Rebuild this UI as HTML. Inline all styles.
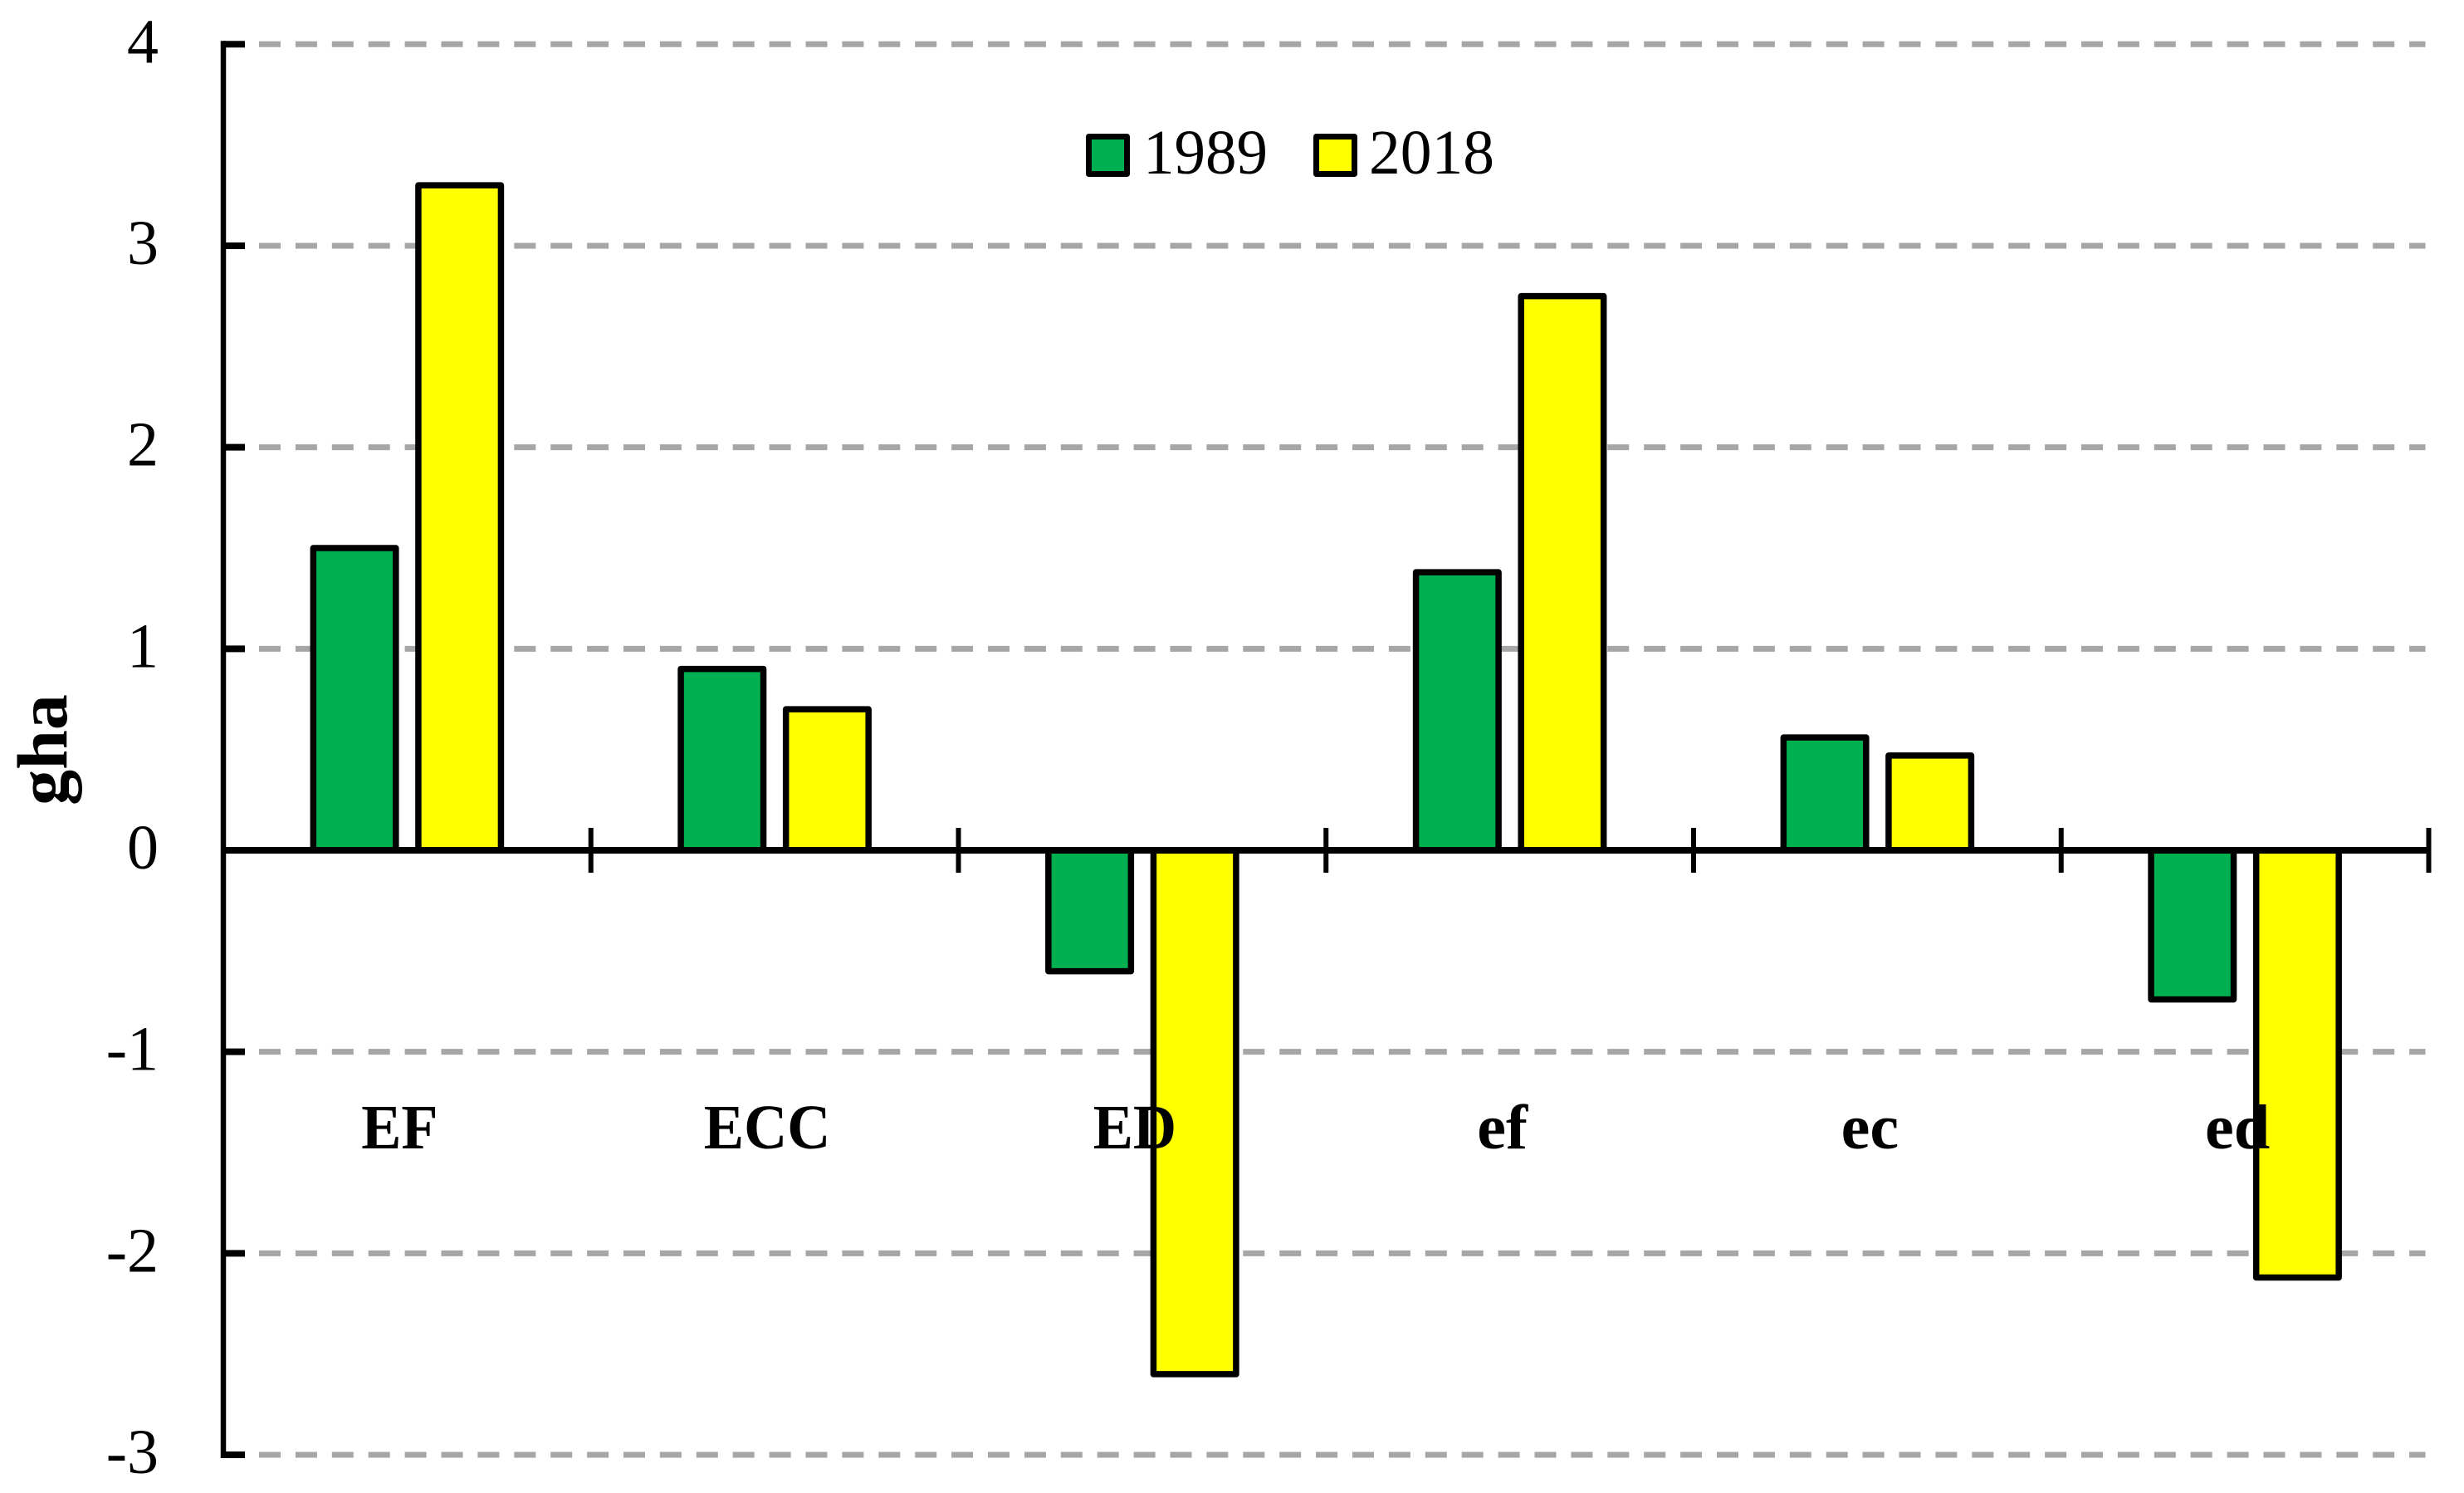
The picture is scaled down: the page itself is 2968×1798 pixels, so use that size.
<!DOCTYPE html>
<html lang="en">
<head>
<meta charset="utf-8">
<title>gha by indicator, 1989 and 2018</title>
<style>
html,body{margin:0;padding:0;background:#fff;}
svg{display:block;}
text{font-family:"Liberation Serif",serif;fill:#000;}
</style>
</head>
<body>
<svg id="chart" xmlns="http://www.w3.org/2000/svg" width="2968" height="1798" viewBox="0 0 2968 1798">
  <rect x="0" y="0" width="2968" height="1798" fill="#fff"/>
  <g id="grid"></g>
  <g id="bars"></g>
  <g id="axes"></g>
  <g id="labels"></g>
  <text transform="translate(80,903) rotate(-90)" text-anchor="middle" font-size="86" font-weight="bold">gha</text>
  <g>
    <rect x="1311.5" y="164.5" width="46" height="45" fill="#00B050" stroke="#000" stroke-width="7" stroke-linejoin="round"/>
    <text x="1377" y="209" font-size="76" textLength="150" lengthAdjust="spacingAndGlyphs">1989</text>
    <rect x="1585.5" y="164.5" width="46" height="45" fill="#FFFF00" stroke="#000" stroke-width="7" stroke-linejoin="round"/>
    <text x="1649" y="209" font-size="76" textLength="151" lengthAdjust="spacingAndGlyphs">2018</text>
  </g>
</svg>
<script>
const categories = ["EF", "ECC", "ED", "ef", "ec", "ed"];
const series1989 = [1.5, 0.9, -0.6, 1.38, 0.56, -0.74];
const series2018 = [3.3, 0.7, -2.6, 2.75, 0.47, -2.12];
const yTickLabels = [4, 3, 2, 1, 0, -1, -2, -3];

const NS = "http://www.w3.org/2000/svg";
const plotLeft = 269, plotRight = 2925.5, plotTop = 53.3, plotBottom = 1752;
const yMax = 4, yMin = -3;
const barWidth = 99.5, barOffset = 63.3;

function yScale(v) {
  return plotTop + (yMax - v) * (plotBottom - plotTop) / (yMax - yMin);
}
function xBand(i) {
  return plotLeft + i * (plotRight - plotLeft) / categories.length;
}
function xCenter(i) {
  return xBand(i + 0.5);
}
function make(tag, attrs, parent) {
  const el = document.createElementNS(NS, tag);
  for (const k in attrs) el.setAttribute(k, attrs[k]);
  parent.appendChild(el);
  return el;
}

const grid = document.getElementById("grid");
const bars = document.getElementById("bars");
const axes = document.getElementById("axes");
const labels = document.getElementById("labels");

yTickLabels.forEach(function (t) {
  const y = yScale(t);
  if (t !== 0) {
    const g = make("line", {x1: 312, x2: plotRight - 4, y1: y, y2: y, stroke: "#a6a6a6", "stroke-width": 7, "stroke-dasharray": "26 17.9"}, grid);
    
    
    const tk = make("line", {x1: plotLeft, x2: 295, y1: y, y2: y, stroke: "#000", "stroke-width": 8}, axes);
    
    
  }
  const lab = make("text", {x: 191, y: y + 22, "text-anchor": "end", "font-size": 76}, labels);
  
  
  lab.textContent = String(t);
});

function drawBar(value, cx, color, name) {
  const y0 = yScale(0), y1 = yScale(value);
  const r = make("rect", {
    x: cx - barWidth / 2,
    y: Math.min(y0, y1),
    width: barWidth,
    height: Math.abs(y1 - y0),
    fill: color,
    stroke: "#000",
    "stroke-width": 7.5,
    "stroke-linejoin": "round"
  }, bars);
  
  
}

categories.forEach(function (c, i) {
  drawBar(series1989[i], xCenter(i) - barOffset, "#00B050", "bar-1989");
  drawBar(series2018[i], xCenter(i) + barOffset, "#FFFF00", "bar-2018");
});

const yAxis = make("line", {x1: plotLeft, x2: plotLeft, y1: plotTop - 4, y2: plotBottom + 4, stroke: "#000", "stroke-width": 6.5}, axes);



const xAxis = make("line", {x1: plotLeft, x2: plotRight, y1: yScale(0), y2: yScale(0), stroke: "#000", "stroke-width": 8}, axes);



for (let i = 1; i <= categories.length; i++) {
  const x = xBand(i);
  const tk = make("line", {x1: x, x2: x, y1: yScale(0) - 27, y2: yScale(0) + 27, stroke: "#000", "stroke-width": 6}, axes);
  
  
}

categories.forEach(function (c, i) {
  const cx = xCenter(i) - 9;
  const isUpper = c === c.toUpperCase();
  const lab = make("text", {
    "text-anchor": "middle",
    "font-size": 76,
    "font-weight": "bold",
    transform: "translate(" + cx + ",1383) scale(" + (isUpper ? 0.95 : 1.03) + ",1)"
  }, labels);
  
  
  lab.textContent = c;
});
</script>
</body>
</html>
